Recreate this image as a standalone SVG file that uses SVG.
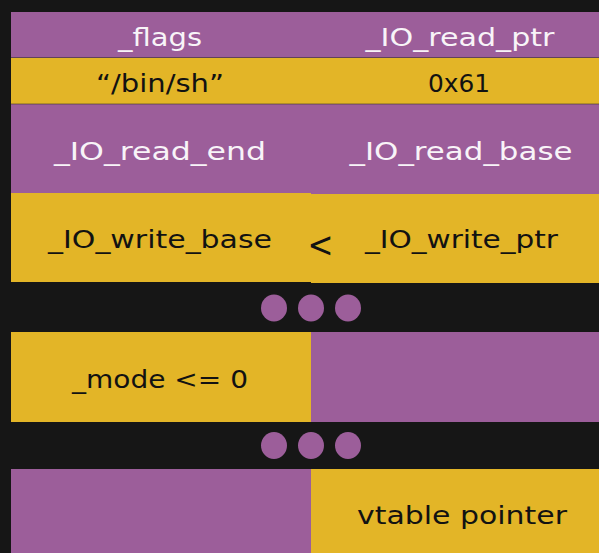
<svg xmlns="http://www.w3.org/2000/svg" width="599" height="553" viewBox="0 0 599 553">
<style>
.p{fill:#9c5e9a}
.y{fill:#e3b527}
.dot{fill:#9c5e9a}
text{font-family:"DejaVu Sans","Liberation Sans",sans-serif;font-size:25px;text-anchor:middle}
.w{fill:#f8f4f8}
.k{fill:#121212}
.sep{stroke:#3a3030;stroke-width:1;opacity:0.6}
</style>
<rect x="0" y="0" width="599" height="553" fill="#161616"/>
<g id="row1">
<rect class="p" x="11" y="12" width="588" height="46"/>
<text class="w" x="160" y="46" textLength="84" lengthAdjust="spacingAndGlyphs">_flags</text>
<text class="w" x="460" y="46" textLength="189" lengthAdjust="spacingAndGlyphs">_IO_read_ptr</text>
</g>
<g id="row2">
<rect class="y" x="11" y="58" width="588" height="46"/>
<text class="k" x="160" y="92" textLength="128" lengthAdjust="spacingAndGlyphs">“/bin/sh”</text>
<text class="k" x="459" y="92" textLength="62" lengthAdjust="spacingAndGlyphs">0x61</text>
</g>
<g id="row3">
<rect class="p" x="11" y="104" width="300" height="89"/>
<rect class="p" x="311" y="104" width="288" height="90"/>
<text class="w" x="160" y="160" textLength="212" lengthAdjust="spacingAndGlyphs">_IO_read_end</text>
<text class="w" x="461" y="160" textLength="223" lengthAdjust="spacingAndGlyphs">_IO_read_base</text>
</g>
<g id="row4">
<rect class="y" x="11" y="193" width="300" height="89"/>
<rect class="y" x="311" y="194" width="288" height="89"/>
<text class="k" x="160" y="248" textLength="224" lengthAdjust="spacingAndGlyphs">_IO_write_base</text>
<text class="k" x="320.5" y="257" style="font-size:36px" textLength="26" lengthAdjust="spacingAndGlyphs">&lt;</text>
<text class="k" x="461.5" y="248" textLength="193" lengthAdjust="spacingAndGlyphs">_IO_write_ptr</text>
</g>
<g id="dots1">
<ellipse class="dot" cx="274" cy="308" rx="13" ry="13.5"/>
<ellipse class="dot" cx="311" cy="308" rx="13" ry="13.5"/>
<ellipse class="dot" cx="348" cy="308" rx="13" ry="13.5"/>
</g>
<g id="row5">
<rect class="y" x="11" y="332" width="300" height="90"/>
<rect class="p" x="311" y="332" width="288" height="90"/>
<text class="k" x="160" y="388" textLength="176" lengthAdjust="spacingAndGlyphs">_mode &lt;= 0</text>
</g>
<g id="dots2">
<ellipse class="dot" cx="274" cy="445.5" rx="13" ry="13.5"/>
<ellipse class="dot" cx="311" cy="445.5" rx="13" ry="13.5"/>
<ellipse class="dot" cx="348" cy="445.5" rx="13" ry="13.5"/>
</g>
<g id="row6">
<rect class="p" x="11" y="469" width="300" height="84"/>
<rect class="y" x="311" y="469" width="288" height="84"/>
<text class="k" x="462" y="524" textLength="210" lengthAdjust="spacingAndGlyphs">vtable pointer</text>
</g>
<g id="connectors">
<line class="sep" x1="11" y1="57.5" x2="599" y2="57.5"/>
<line class="sep" x1="11" y1="104" x2="599" y2="104"/>
</g>
</svg>
